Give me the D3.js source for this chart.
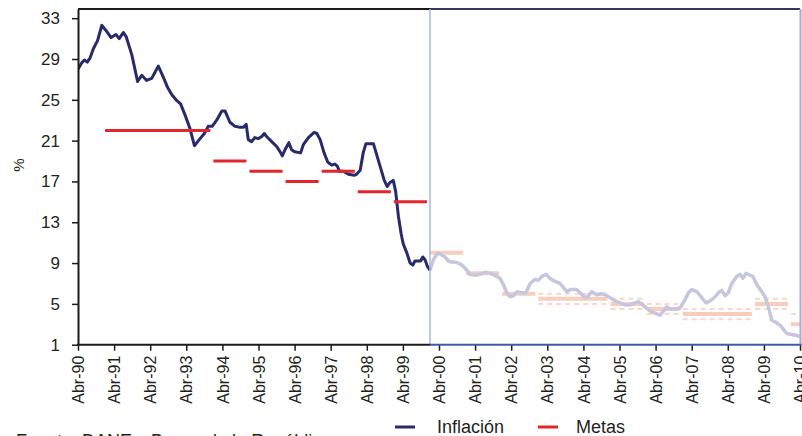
<!DOCTYPE html>
<html><head><meta charset="utf-8">
<script src="https://cdn.jsdelivr.net/npm/d3@7"></script>
<style>
body{margin:0;background:#fff}
svg{display:block}
text{font-family:"Liberation Sans",Arial,Helvetica,sans-serif;fill:#231f20}
</style>
</head><body>
<svg id="c" width="802" height="436"></svg>
<script>
// ---- DATA ----
// months since Apr-1990 and annual inflation (%), period 1990-1999
const inflMonths = [0,1.2,2.1,3.1,4,5.1,6.5,7.9,9.3,11,12.6,13.7,15.1,16,17.9,19.8,21.2,22.8,24.5,25.6,26.7,28.4,29.8,31.2,32.6,34.1,35.6,37.2,38.7,40.3,42,43.3,44.6,46.1,47.8,48.9,50.5,52.2,53.9,55,55.9,56.6,57.7,58.8,59.9,61.1,61.9,62.7,64.4,66.1,67.2,67.9,68.8,70.1,71,72.1,74,74.9,76.6,78.5,79.4,80.5,81.8,83,84.3,85.4,86.2,86.9,88.2,89.9,91.8,92.6,93.8,94.8,95.7,97.1,98.2,99.3,100.6,101.8,102.8,103.7,104.8,105.6,106.5,107.4,108.1,109.3,110.4,111.3,112,113.1,113.9,114.6,115.4,116.1,117];
const inflValues = [28.0,28.6,28.9,28.7,29.1,30.0,30.8,32.3,31.8,31.1,31.4,31.0,31.6,31.2,29.4,26.8,27.4,26.9,27.1,27.7,28.3,27.2,26.2,25.5,25.0,24.6,23.5,22.2,20.5,21.1,21.7,22.4,22.4,23.0,23.9,23.9,22.8,22.4,22.3,22.3,22.6,21.1,20.9,21.3,21.2,21.4,21.7,21.4,20.9,20.4,19.9,19.5,20.1,20.8,20.1,19.9,19.8,20.6,21.3,21.8,21.7,21.1,19.8,18.9,18.6,18.7,18.5,18.0,18.0,17.7,17.6,17.7,18.1,19.8,20.7,20.7,20.7,19.6,18.3,17.1,16.5,16.9,17.1,16.0,13.6,11.9,10.9,10.0,9.0,8.8,9.2,9.2,9.2,9.6,9.3,8.7,8.3];
// period 2000-2010
const inflMonths2 = [117,118.1,118.7,119.8,120.9,122,123.1,124.2,125.3,126.4,127.6,128.7,130.3,132,133.6,135.3,137,138.6,140.3,141.4,142.5,143.6,144.7,146,147.5,148.9,150.3,151.9,153,154.2,155.6,156.9,158.6,160.2,162.5,163.6,164.7,165.8,166.9,168.2,169.1,170.8,172.4,174.1,175.2,176.9,178.5,180.2,181.8,183.5,185.2,186.3,187.4,188.5,190.2,191.8,193.5,194.6,195.7,196.8,198.5,200.1,201.8,202.9,204,205.7,207.4,208.8,210.1,211.8,213.2,214,215.1,216.2,217.3,219,220.1,221,222.1,223.4,224.3,225.6,227.3,228.4,229.5,230.6,232,233.4,234.5,235.6,237.3,238.9,240];
const inflValues2 = [8.3,9.3,9.6,10.0,9.8,9.6,9.2,9.1,9.1,9.0,8.8,8.5,7.9,7.8,7.9,8.1,8.0,7.8,7.5,6.9,6.1,5.7,5.8,6.2,6.1,6.1,7.0,7.4,7.3,7.7,7.9,7.5,7.2,7.0,6.2,6.4,6.4,6.4,6.1,5.7,5.6,6.2,5.9,6.0,5.9,5.6,5.3,5.1,4.9,4.9,5.1,5.2,5.0,4.7,4.3,4.1,3.9,4.3,4.7,4.5,4.5,4.6,5.4,6.1,6.4,6.2,5.6,5.1,5.3,5.7,6.2,6.3,5.8,6.1,7.0,7.7,7.9,7.5,8.0,7.8,7.7,6.9,6.2,5.7,4.7,3.4,3.2,2.9,2.5,2.1,2.0,1.9,1.8];

// inflation targets (Metas)
const metaStart  = ["1991-01","1994-01","1995-01","1996-01","1997-01","1998-01","1999-01"];
const metaEnd    = ["1993-12","1994-12","1995-12","1996-12","1997-12","1998-12","1999-12"];
const metaValues = [22,19,18,17,18,16,15];
const meta2Start  = ["2000-01","2001-01","2002-01","2003-01","2005-01","2006-01","2007-01","2009-01","2010-01"];
const meta2End    = ["2000-12","2001-12","2002-12","2004-12","2005-12","2006-12","2008-12","2009-12","2010-12"];
const meta2Values = [10,8,6,5.5,5,4.5,4,5,3];
const meta2Low    = [null,null,null,5,4.5,4,3.5,4.5,2];
const meta2High   = [null,null,null,6,5.5,5,4.5,5.5,4];

const yTicks = [1,5,9,13,17,21,25,29,33];
const yMax = 33.9;
const xTickLabels = ["Abr-90","Abr-91","Abr-92","Abr-93","Abr-94","Abr-95","Abr-96","Abr-97","Abr-98","Abr-99","Abr-00","Abr-01","Abr-02","Abr-03","Abr-04","Abr-05","Abr-06","Abr-07","Abr-08","Abr-09","Abr-10"];
const legendLabels = ["Inflación","Metas"];
const sourceText = "Fuente: DANE y Banco de la República";

// ---- CHART ----
const svg = d3.select("#c");
const L = 78, R = 800, T = 9, B = 344.7;
const monthIdx = s => { const [yy, mm] = s.split("-").map(Number); return (yy - 1990) * 12 + (mm - 4); };

const x = d3.scaleLinear().domain([0, 240]).range([L, R]);
const y = d3.scaleLinear().domain([1, yMax]).range([B, T]);

svg.append("defs").append("clipPath").attr("id","clip")
  .append("rect").attr("x", L).attr("y", T).attr("width", R - L).attr("height", B - T);

const plot = svg.append("g").attr("clip-path","url(#clip)");
const line = d3.line().x(d => x(d[0])).y(d => y(d[1]));

// light targets with ranges (2000+)
meta2Values.forEach((v, i) => {
  const a = monthIdx(meta2Start[i]), b = monthIdx(meta2End[i]);
  if (meta2Low[i] !== null) {
    [meta2Low[i], meta2High[i]].forEach(r => {
      plot.append("path").attr("d", line([[a, r],[b, r]]))
        .attr("stroke","#fbd6c9").attr("stroke-width",2).attr("stroke-dasharray","5,4").attr("fill","none");
    });
  }
  plot.append("path").attr("d", line([[a, v],[b, v]]))
    .attr("stroke","#f9cdbd").attr("stroke-width",4).attr("fill","none");
});

// light inflation line (2000+)
plot.append("path").attr("d", line(inflMonths2.map((m, i) => [m, inflValues2[i]])))
  .attr("fill","none").attr("stroke","#c6c7df").attr("stroke-width",3.5).attr("stroke-linejoin","round");

// navy inflation line (1990-1999)
plot.append("path").attr("d", line(inflMonths.map((m, i) => [m, inflValues[i]])))
  .attr("fill","none").attr("stroke","#282a6c").attr("stroke-width",3).attr("stroke-linejoin","round");

// red targets
metaValues.forEach((v, i) => {
  plot.append("path").attr("d", line([[monthIdx(metaStart[i]), v],[monthIdx(metaEnd[i]), v]]))
    .attr("stroke","#e3262b").attr("stroke-width",3).attr("fill","none");
});

// frame
const split = x(117);
svg.append("line").attr("x1", L).attr("x2", split).attr("y1", T).attr("y2", T).attr("stroke","#1c1a1b").attr("stroke-width",2);
svg.append("line").attr("x1", split).attr("x2", R).attr("y1", T).attr("y2", T).attr("stroke","#33365a").attr("stroke-width",2);
svg.append("line").attr("x1", R + 0.5).attr("x2", R + 0.5).attr("y1", T).attr("y2", B).attr("stroke","#a6acd0").attr("stroke-width",2);
svg.append("line").attr("x1", split).attr("x2", split).attr("y1", T).attr("y2", B).attr("stroke","#a9b8e2").attr("stroke-width",1.5);

// y axis
const yAxis = svg.append("g").attr("transform", `translate(${L},0)`)
  .call(d3.axisLeft(y).tickValues(yTicks).tickSize(6).tickSizeOuter(0).tickPadding(12).tickFormat(d3.format("d")));
yAxis.select(".domain").attr("stroke","#1c1a1b").attr("stroke-width",2);
yAxis.selectAll(".tick line").attr("stroke","#1c1a1b").attr("stroke-width",1.5);
yAxis.selectAll(".tick text").attr("font-size",17).style("font-family",'"Liberation Sans",Arial,sans-serif').attr("fill","#231f20");

// x axis
const xAxis = svg.append("g").attr("transform", `translate(0,${B})`)
  .call(d3.axisBottom(x).tickValues(d3.range(0, 241, 12)).tickSize(6).tickSizeOuter(0)
    .tickFormat((d, i) => xTickLabels[i]));
xAxis.select(".domain").remove();
xAxis.selectAll(".tick line").attr("stroke","#1c1a1b").attr("stroke-width",1.5);
xAxis.selectAll(".tick text")
  .attr("transform","rotate(-90)").attr("x",-11).attr("y",0).attr("dy","0.35em")
  .style("text-anchor","end").attr("font-size",16)
  .style("font-family",'"Liberation Sans",Arial,sans-serif').attr("fill","#231f20");
svg.append("line").attr("x1", L - 1).attr("x2", split).attr("y1", B).attr("y2", B).attr("stroke","#1c1a1b").attr("stroke-width",2);
svg.append("line").attr("x1", split).attr("x2", R + 1.5).attr("y1", B).attr("y2", B).attr("stroke","#3f5aa6").attr("stroke-width",2);

// y label
svg.append("text").attr("transform","translate(24,165) rotate(-90)").attr("text-anchor","middle")
  .attr("font-size",15).text("%");

// legend
const leg = svg.append("g");
leg.append("line").attr("x1",395).attr("x2",415).attr("y1",427).attr("y2",427).attr("stroke","#282a6c").attr("stroke-width",3);
leg.append("text").attr("x",437).attr("y",433).attr("font-size",18).text(legendLabels[0]);
leg.append("line").attr("x1",538).attr("x2",558).attr("y1",427).attr("y2",427).attr("stroke","#e3262b").attr("stroke-width",3);
leg.append("text").attr("x",576).attr("y",433).attr("font-size",18).text(legendLabels[1]);

// source (cut by the bottom edge, as in the reference)
svg.append("text").attr("x",16).attr("y",447).attr("font-size",18).text(sourceText);
</script>
</body></html>
